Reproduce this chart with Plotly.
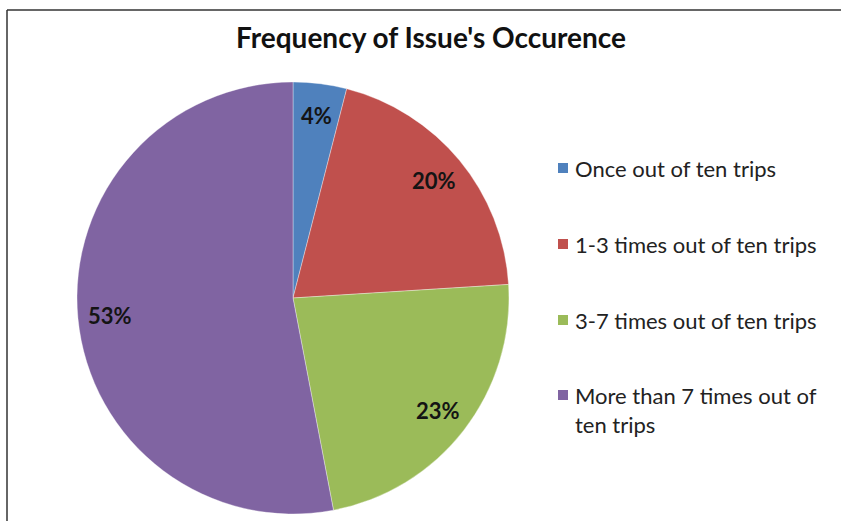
import math
import plotly.graph_objects as go

# Survey answers: how often the issue occurs
categories = [
    "Once out of ten trips",
    "1-3 times out of ten trips",
    "3-7 times out of ten trips",
    "More than 7 times out of ten trips",
]
legend_text = [
    "Once out of ten trips",
    "1-3 times out of ten trips",
    "3-7 times out of ten trips",
    "More than 7 times out of<br>ten trips",
]
shares = [4, 20, 23, 53]
colors = ["#4F81BD", "#C0504D", "#9BBB59", "#8064A2"]

W, H = 841, 521
FONT = "Lato, 'Open Sans', sans-serif"

# pie placement in pixels
cx, cy, r = 293, 298, 216

fig = go.Figure(
    go.Pie(
        labels=categories,
        values=shares,
        sort=False,
        direction="clockwise",
        rotation=0,
        marker=dict(colors=colors, line=dict(color="rgba(255,255,255,0.35)", width=1)),
        textinfo="none",
        showlegend=False,
        hoverinfo="label+percent",
        domain=dict(
            x=[(cx - r) / W, (cx + r) / W],
            y=[(H - cy - r) / H, (H - cy + r) / H],
        ),
    )
)

annotations = []
shapes = []

# Percentage labels sit on each slice's bisector, well out toward the rim
total = sum(shares)
cum = 0.0
label_r = 0.85 * r
for v in shares:
    mid = 2 * math.pi * (cum + v / 2) / total
    cum += v
    px = cx + label_r * math.sin(mid)
    py = cy - label_r * math.cos(mid)
    annotations.append(dict(
        x=px / W, y=1 - py / H, xref="paper", yref="paper",
        xanchor="center", yanchor="middle",
        text=f"{round(100 * v / total)}%", showarrow=False,
        font=dict(family=FONT, size=22, color="#141414", weight="bold"),
    ))

# Legend drawn as swatches + labels
row_y = [168, 244, 320, 395]
for name, col, y in zip(legend_text, colors, row_y):
    shapes.append(dict(
        type="rect", xref="paper", yref="paper",
        x0=558 / W, x1=568 / W, y0=1 - (y + 5) / H, y1=1 - (y - 5) / H,
        fillcolor=col, line=dict(width=0),
    ))
    annotations.append(dict(
        x=573 / W, y=1 - (y - 15) / H, xref="paper", yref="paper",
        xanchor="left", yanchor="top", align="left",
        text=name, showarrow=False,
        font=dict(family=FONT, size=22, color="#222222"),
    ))

# chart frame (left and top edges)
shapes.append(dict(type="line", xref="paper", yref="paper",
                   x0=7 / W, x1=1.01, y0=1 - 10 / H, y1=1 - 10 / H,
                   line=dict(color="#333333", width=1.5)))
shapes.append(dict(type="line", xref="paper", yref="paper",
                   x0=7 / W, x1=7 / W, y0=-0.01, y1=1 - 10 / H,
                   line=dict(color="#333333", width=1.5)))

fig.update_layout(
    width=W, height=H,
    margin=dict(l=0, r=0, t=0, b=0),
    paper_bgcolor="white",
    plot_bgcolor="white",
    title=dict(
        text="Frequency of Issue's Occurence",
        x=431 / W, xanchor="center",
        y=1 - 38 / H, yanchor="middle",
        font=dict(family=FONT, size=28, color="#111111", weight="bold"),
    ),
    shapes=shapes,
    annotations=annotations,
)

fig.write_html("out.html")
